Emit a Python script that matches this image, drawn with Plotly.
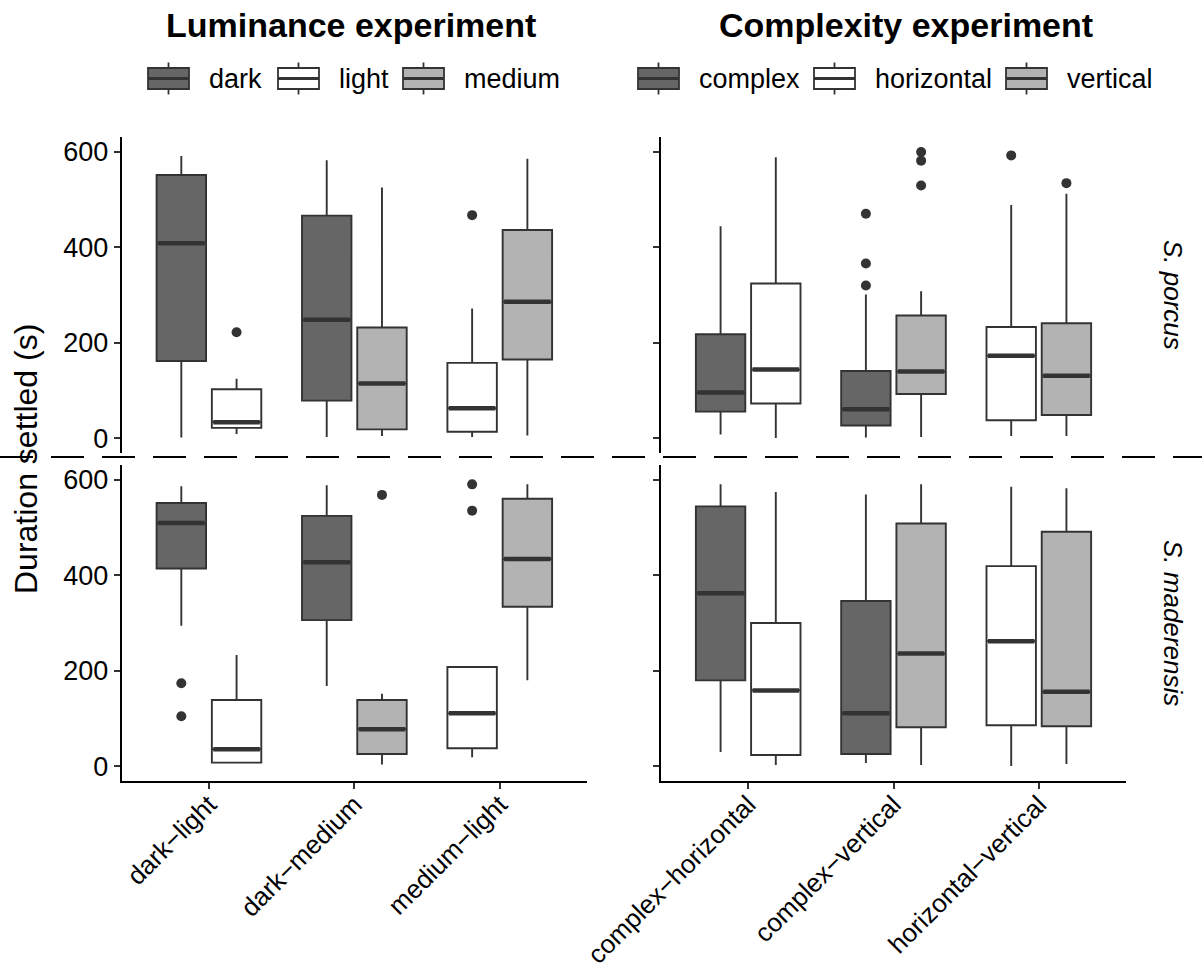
import plotly.graph_objects as go

# Comparison categories (x axis) and treatment levels of each experiment
LUM_PAIRS = ["dark−light", "dark−medium", "medium−light"]
CPX_PAIRS = ["complex−horizontal", "complex−vertical", "horizontal−vertical"]
LUM_LEVELS = ["dark", "light", "medium"]
CPX_LEVELS = ["complex", "horizontal", "vertical"]

# Five-number summaries per comparison: (lower whisker, Q1, median, Q3, upper whisker)
# None where a treatment is not part of that comparison.
porcus_lum = {
    "dark":   [(2, 162, 408, 551, 591), (3, 79, 248, 466, 582), None],
    "light":  [(9, 22, 34, 103, 125), None, (3, 14, 63, 158, 272)],
    "medium": [None, (5, 19, 115, 232, 525), (6, 165, 286, 436, 585)],
}
porcus_cpx = {
    "complex":    [(8, 56, 96, 218, 444), (2, 27, 61, 141, 301), None],
    "horizontal": [(1, 73, 144, 324, 588), None, (5, 38, 173, 233, 488)],
    "vertical":   [None, (3, 93, 140, 257, 308), (5, 49, 131, 241, 512)],
}
maderensis_lum = {
    "dark":   [(294, 414, 509, 551, 586), (168, 306, 427, 524, 588), None],
    "light":  [(6, 8, 36, 139, 233), None, (19, 38, 111, 208, 208)],
    "medium": [None, (4, 26, 78, 139, 152), (180, 334, 434, 560, 590)],
}
maderensis_cpx = {
    "complex":    [(30, 180, 362, 544, 590), (7, 26, 111, 346, 569), None],
    "horizontal": [(3, 24, 159, 300, 574), None, (1, 86, 262, 419, 585)],
    "vertical":   [None, (3, 82, 236, 508, 590), (5, 84, 156, 491, 582)],
}

# Outlying observations: (comparison index, treatment, value)
porcus_lum_out = [(0, "light", 222), (2, "light", 467)]
porcus_cpx_out = [(1, "complex", 470), (1, "complex", 366), (1, "complex", 320),
                  (1, "vertical", 599), (1, "vertical", 581), (1, "vertical", 529),
                  (2, "horizontal", 592), (2, "vertical", 534)]
maderensis_lum_out = [(0, "dark", 174), (0, "dark", 105), (1, "medium", 568),
                      (2, "light", 590), (2, "light", 535)]
maderensis_cpx_out = []

FILLS = ["#666666", "#ffffff", "#b3b3b3"]
EDGE = "#333333"
FONT = "Liberation Sans, Arial, sans-serif"
W, H = 1202, 976
DODGE = 0.19
BOX_W = 0.34

fig = go.Figure()


def side(levels, stats, i, lvl):
    """Left (-1) or right (+1) position of a treatment within a comparison."""
    present = [l for l in levels if stats[l][i] is not None]
    return -1 if present.index(lvl) == 0 else 1


def add_panel(stats, outliers, levels, ax):
    xa, ya = ("x" + ax, "y" + ax) if ax != "1" else ("x", "y")
    for lvl, fill in zip(levels, FILLS):
        xs, lo, q1, med, q3, hi = [], [], [], [], [], []
        for i, s in enumerate(stats[lvl]):
            if s is None:
                continue
            xs.append(i + DODGE * side(levels, stats, i, lvl))
            lo.append(s[0]); q1.append(s[1]); med.append(s[2]); q3.append(s[3]); hi.append(s[4])
        fig.add_trace(go.Box(
            x=xs, q1=q1, median=med, q3=q3, lowerfence=lo, upperfence=hi,
            width=BOX_W, whiskerwidth=0, boxpoints=False,
            fillcolor=fill, line=dict(color=EDGE, width=1.9),
            name=lvl, showlegend=False, xaxis=xa, yaxis=ya, hoverinfo="skip",
        ))
        # thick median bars
        mx, my = [], []
        for x, m in zip(xs, med):
            mx += [x - BOX_W / 2 + 0.01, x + BOX_W / 2 - 0.01, None]
            my += [m, m, None]
        fig.add_trace(go.Scatter(
            x=mx, y=my, mode="lines", line=dict(color=EDGE, width=4.5),
            showlegend=False, xaxis=xa, yaxis=ya, hoverinfo="skip",
        ))
    if outliers:
        ox = [i + DODGE * side(levels, stats, i, lvl) for i, lvl, _ in outliers]
        oy = [v for _, _, v in outliers]
        fig.add_trace(go.Scatter(
            x=ox, y=oy, mode="markers", marker=dict(color=EDGE, size=10),
            showlegend=False, xaxis=xa, yaxis=ya, hoverinfo="skip",
        ))


add_panel(porcus_lum, porcus_lum_out, LUM_LEVELS, "1")
add_panel(porcus_cpx, porcus_cpx_out, CPX_LEVELS, "2")
add_panel(maderensis_lum, maderensis_lum_out, LUM_LEVELS, "3")
add_panel(maderensis_cpx, maderensis_cpx_out, CPX_LEVELS, "4")

left_dom = [121.7 / W, 587 / W]
right_dom = [661 / W, 1126 / W]
top_dom = [1 - 453 / H, 1 - 137 / H]
bot_dom = [1 - 781 / H, 1 - 465 / H]

tick_font = dict(family=FONT, size=27, color="black")
y_common = dict(range=[-30.5, 630.5], tickvals=[0, 200, 400, 600], showgrid=False,
                zeroline=False, showline=True, linecolor="black", linewidth=2,
                ticks="outside", ticklen=6, tickwidth=1.5, tickcolor="#333333",
                tickfont=tick_font, fixedrange=True, automargin=False)
x_common = dict(range=[-0.6, 2.6], showgrid=False, zeroline=False, fixedrange=True,
                automargin=False)
x_bottom = dict(showline=True, linecolor="black", linewidth=2, ticks="outside",
                ticklen=6, tickwidth=1.5, tickcolor="#333333", tickangle=-45,
                ticklabelstandoff=-10,
                tickfont=dict(family=FONT, size=26, color="black"), tickvals=[0, 1, 2])
x_top = dict(showline=False, ticks="", showticklabels=False)

fig.update_layout(
    width=W, height=H, autosize=False,
    margin=dict(l=0, r=0, t=0, b=0, autoexpand=False),
    paper_bgcolor="white", plot_bgcolor="white",
    boxmode="overlay", showlegend=False,
    font=dict(family=FONT, size=27, color="black"),
    xaxis=dict(domain=left_dom, anchor="y", **x_common, **x_top),
    yaxis=dict(domain=top_dom, anchor="x", **y_common),
    xaxis2=dict(domain=right_dom, anchor="y2", **x_common, **x_top),
    yaxis2=dict(domain=top_dom, anchor="x2", showticklabels=False, **y_common),
    xaxis3=dict(domain=left_dom, anchor="y3", ticktext=LUM_PAIRS, **x_common, **x_bottom),
    yaxis3=dict(domain=bot_dom, anchor="x3", **y_common),
    xaxis4=dict(domain=right_dom, anchor="y4", ticktext=CPX_PAIRS, **x_common, **x_bottom),
    yaxis4=dict(domain=bot_dom, anchor="x4", showticklabels=False, **y_common),
)


def px(x):
    return x / W


def py(y):
    return 1 - y / H


def text(label, x, y, size, angle=0, xanchor="center"):
    fig.add_annotation(text=label, x=px(x), y=py(y), xref="paper", yref="paper",
                       showarrow=False, textangle=angle, xanchor=xanchor, yanchor="middle",
                       font=dict(family=FONT, size=size, color="black"))


# Column titles, shared y title and row strip labels
text("<b>Luminance experiment</b>", 351, 25, 34)
text("<b>Complexity experiment</b>", 906, 25, 34)
text("Duration settled (s)", 26, 459, 32, angle=-90)
text("<i>S. porcus</i>", 1173, 295, 26, angle=90)
text("<i>S. maderensis</i>", 1173, 623, 26, angle=90)

# Legend keys: boxplot glyph (box, median, whisker stubs) followed by the level name
KEY_Y, KEY_W, KEY_H, STUB = 78.5, 41, 21, 5.5


def legend_key(x0, fill, label):
    ref = dict(xref="paper", yref="paper")
    xc = x0 + KEY_W / 2
    for ya, yb in [(KEY_Y - KEY_H / 2 - STUB, KEY_Y - KEY_H / 2),
                   (KEY_Y + KEY_H / 2, KEY_Y + KEY_H / 2 + STUB)]:
        fig.add_shape(type="line", x0=px(xc), x1=px(xc), y0=py(ya), y1=py(yb),
                      line=dict(color=EDGE, width=1.8), **ref)
    fig.add_shape(type="rect", x0=px(x0), x1=px(x0 + KEY_W),
                  y0=py(KEY_Y - KEY_H / 2), y1=py(KEY_Y + KEY_H / 2),
                  fillcolor=fill, line=dict(color=EDGE, width=1.8), **ref)
    fig.add_shape(type="line", x0=px(x0), x1=px(x0 + KEY_W), y0=py(KEY_Y), y1=py(KEY_Y),
                  line=dict(color=EDGE, width=3), **ref)
    text(label, x0 + KEY_W + 18, KEY_Y, 27, xanchor="left")


for x0, fill, lvl in zip([148, 278, 403], FILLS, LUM_LEVELS):
    legend_key(x0, fill, lvl)
for x0, fill, lvl in zip([638, 814, 1006], FILLS, CPX_LEVELS):
    legend_key(x0, fill, lvl)

# Dashed separator between the species rows
fig.add_shape(type="line", xref="paper", yref="paper", x0=0, x1=1,
              y0=py(457), y1=py(457), layer="above",
              line=dict(color="black", width=2, dash="33px,18px"))

fig.write_html("out.html")
